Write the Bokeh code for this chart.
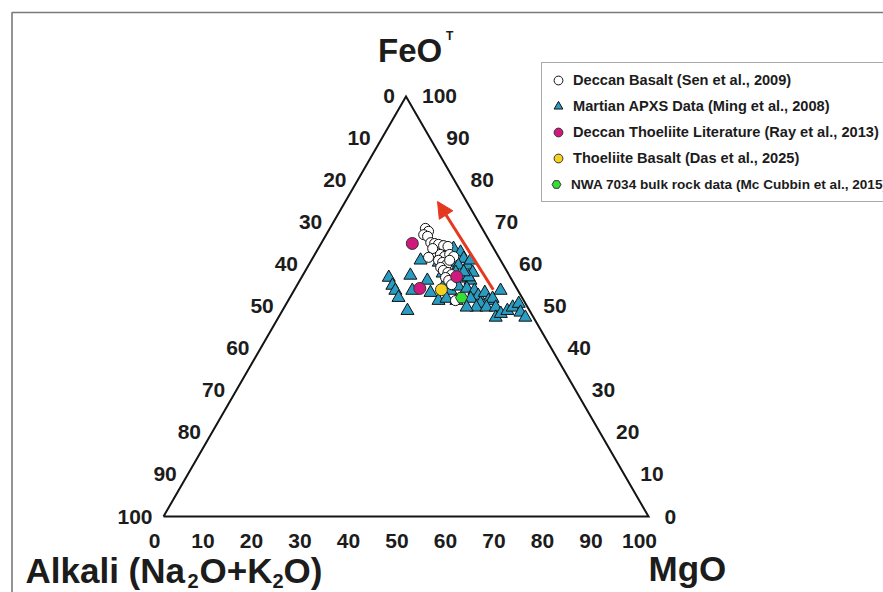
import math
from bokeh.plotting import figure
from bokeh.models import Range1d, Legend, LegendItem, Arrow, NormalHead
from bokeh.core.properties import value
from bokeh.embed import file_html
from bokeh.resources import INLINE

# ---- data: oxide proportions (Alkali, FeOT, MgO), normalised to 100 ----
deccan_alk = [11.7, 11.4, 12.8, 12.2, 12.3, 11.6, 10.9, 10.0, 9.2, 12.4, 11.7, 11.1, 9.8, 9.2,
              12.8, 12.2, 11.6, 10.5, 13.2, 13.0, 12.3, 11.8, 13.4, 13.1, 13.0, 14.1, 12.6, 14.5]
deccan_feo = [68.6, 67.9, 67.1, 66.7, 65.2, 65.0, 64.8, 64.5, 64.3, 62.9, 62.4, 61.9, 62.4, 61.9,
              61.0, 60.5, 60.0, 61.0, 59.3, 58.6, 58.1, 57.6, 56.9, 56.2, 55.2, 51.4, 63.8, 61.7]
deccan_mgo = [19.7, 20.7, 20.1, 21.1, 22.5, 23.4, 24.3, 25.5, 26.5, 24.7, 25.9, 27.0, 27.8, 28.9,
              26.2, 27.3, 28.4, 28.5, 27.5, 28.4, 29.6, 30.6, 29.7, 30.7, 31.8, 34.5, 23.6, 23.8]

apxs_alk = [25.1, 25.3, 25.3, 25.5, 20.4, 16.5, 21.8, 25.2, 17.5, 18.3, 17.6, 13.9, 12.3, 15.7,
            12.0, 10.5, 9.8, 8.3, 7.3, 7.4, 10.6, 13.0, 9.3, 7.4, 13.5, 10.7, 10.0, 8.6,
            14.5, 11.8, 10.3, 9.0, 8.8, 7.1, 10.7, 7.3, 9.3, 6.2, 10.6, 8.5, 6.6, 12.6,
            13.9, 3.6, 7.8, 6.3, 4.6, 3.1, 1.4, 2.1, 1.7, 12.7, 6.2, 7.2, 12.4, 8.6, 9.0]
apxs_feo = [56.9, 55.0, 53.8, 52.1, 57.4, 61.0, 53.8, 49.0, 56.2, 53.3, 51.4, 53.8, 55.7, 51.9,
            63.8, 64.0, 62.9, 63.8, 62.9, 61.4, 60.5, 60.5, 59.8, 59.8, 57.9, 58.1, 56.7, 56.2,
            55.2, 54.8, 54.3, 53.8, 52.6, 53.3, 51.9, 51.4, 50.7, 51.9, 49.8, 49.8, 49.8, 49.8,
            51.4, 53.8, 47.4, 48.3, 49.0, 49.8, 50.7, 48.6, 47.4, 63.3, 61.0, 58.1, 56.7, 57.0, 58.2]
apxs_mgo = [18.0, 19.7, 20.9, 22.4, 22.2, 22.5, 24.4, 25.8, 26.3, 28.4, 31.0, 32.3, 32.0, 32.4,
            24.2, 25.5, 27.3, 27.9, 29.8, 31.2, 28.9, 26.5, 30.9, 32.8, 28.6, 31.2, 33.3, 35.2,
            30.3, 33.4, 35.4, 37.2, 38.6, 39.6, 37.4, 41.3, 40.0, 41.9, 39.6, 41.7, 43.6, 37.6,
            34.7, 42.6, 44.8, 45.4, 46.4, 47.1, 47.9, 49.3, 50.9, 24.0, 32.8, 34.7, 30.9, 34.4, 32.8]

ray_alk = [16.2, 11.0, 20.0]
ray_feo = [65.0, 57.1, 54.3]
ray_mgo = [18.8, 31.9, 25.7]

das_alk = [15.7]
das_feo = [54.0]
das_mgo = [30.3]

nwa_alk = [12.5]
nwa_feo = [52.1]
nwa_mgo = [35.4]

# trend arrow (tail -> head)
arrow_alk = [5.0, 6.0]
arrow_feo = [54.0, 75.0]
arrow_mgo = [41.0, 19.0]

tick_values = [0, 10, 20, 30, 40, 50, 60, 70, 80, 90, 100]

H = math.sqrt(3) / 2


def tern(alk, feo, mgo):
    xs, ys = [], []
    for a, f, m in zip(alk, feo, mgo):
        s = a + f + m
        fn, mn = 100.0 * f / s, 100.0 * m / s
        xs.append(mn + fn / 2.0)
        ys.append(fn * H)
    return xs, ys


# ---- figure: 4.85 px per ternary unit, Alkali corner at (163, 516) px ----
W, HT = 883, 592
SCALE = 4.85
OX, OY = 163, 516
p = figure(width=W, height=HT, output_backend="svg", toolbar_location=None,
           x_range=Range1d(-OX / SCALE, (W - OX) / SCALE),
           y_range=Range1d(-(HT - OY) / SCALE, OY / SCALE),
           x_axis_location=None, y_axis_location=None, min_border=0)
p.grid.visible = False
p.outline_line_color = None
p.background_fill_color = "white"
p.border_fill_color = "white"

# page frame (left and top edges)
fx = (11.5 - OX) / SCALE
fy = (OY - 12) / SCALE
p.line([fx, fx, (W - OX) / SCALE + 2], [-(HT - OY) / SCALE - 2, fy, fy],
       line_color="#7a7a7a", line_width=1.6)

# triangle outline
cx, cy = tern([100, 0, 0, 100], [0, 100, 0, 0], [0, 0, 100, 0])
p.line(cx, cy, line_color="#141414", line_width=2, line_join="miter")

FONT = value("Liberation Sans")
TXT = "#1c1c1c"

# tick labels along the three edges
labels = [str(v) for v in tick_values]
bx, by = tern([100 - v for v in tick_values], [0] * 11, tick_values)
p.text(bx, by, text=labels, x_offset=-9, y_offset=24, text_align="center",
       text_baseline="middle", text_font=FONT, text_font_style="bold",
       text_font_size="21px", text_color=TXT)
lx, ly = tern(tick_values, [100 - v for v in tick_values], [0] * 11)
p.text(lx, ly, text=labels, x_offset=-11, y_offset=0, text_align="right",
       text_baseline="middle", text_font=FONT, text_font_style="bold",
       text_font_size="21px", text_color=TXT)
rx, ry = tern([0] * 11, tick_values, [100 - v for v in tick_values])
p.text(rx, ry, text=labels, x_offset=16, y_offset=0, text_align="left",
       text_baseline="middle", text_font=FONT, text_font_style="bold",
       text_font_size="21px", text_color=TXT)


def title_piece(corner, txt, dx, dy, size):
    x, y = tern(*[[c] for c in corner])
    p.text(x, y, text=[txt], x_offset=dx, y_offset=dy, text_align="left",
           text_baseline="alphabetic", text_font=FONT, text_font_style="bold",
           text_font_size=size, text_color=TXT)


# corner titles
title_piece((0, 100, 0), "FeO", -28, -46, "33px")
title_piece((0, 100, 0), "T", 40, -60, "12px")
title_piece((100, 0, 0), "Alkali (Na", -138, 54, "35px")
title_piece((100, 0, 0), "2", 24, 64, "20px")
title_piece((100, 0, 0), "O+K", 36, 54, "35px")
title_piece((100, 0, 0), "2", 109, 64, "20px")
title_piece((100, 0, 0), "O)", 120, 54, "35px")
title_piece((0, 0, 100), "MgO", 0, 52, "35px")

# trend arrow
ax, ay = tern(arrow_alk, arrow_feo, arrow_mgo)
p.add_layout(Arrow(x_start=ax[0], y_start=ay[0], x_end=ax[1], y_end=ay[1],
                   line_color="#e4391f", line_width=3,
                   end=NormalHead(size=16, fill_color="#e4391f", line_color="#e4391f")))

# data series
x, y = tern(apxs_alk, apxs_feo, apxs_mgo)
r_apxs = p.scatter(x, y, marker="triangle", size=13, fill_color="#2a9cc2",
                   line_color="#111111", line_width=1)
x, y = tern(deccan_alk, deccan_feo, deccan_mgo)
r_deccan = p.scatter(x, y, marker="circle", size=10, fill_color="white",
                     line_color="#111111", line_width=1)
x, y = tern(ray_alk, ray_feo, ray_mgo)
r_ray = p.scatter(x, y, marker="circle", size=12, fill_color="#d0197d",
                  line_color="#333333", line_width=1)
x, y = tern(das_alk, das_feo, das_mgo)
r_das = p.scatter(x, y, marker="circle", size=12, fill_color="#f4d21e",
                  line_color="#333333", line_width=1)
x, y = tern(nwa_alk, nwa_feo, nwa_mgo)
r_nwa = p.scatter(x, y, marker="hex", size=12, fill_color="#35e035",
                  line_color="#333333", line_width=1)
# invisible placeholder keeping the fifth legend row open
r_slot = p.scatter([float("nan")], [float("nan")], marker="circle", size=1, alpha=0)


def style_legend(lg, size):
    lg.padding = 5
    lg.spacing = 2
    lg.margin = 0
    lg.glyph_width = 22
    lg.glyph_height = 24
    lg.label_height = 24
    lg.label_standoff = 4
    lg.label_text_font = "Liberation Sans"
    lg.label_text_font_style = "bold"
    lg.label_text_font_size = size
    lg.label_text_color = TXT


legend = Legend(items=[
    LegendItem(label="Deccan Basalt (Sen et al., 2009)", renderers=[r_deccan]),
    LegendItem(label="Martian APXS Data (Ming et al., 2008)", renderers=[r_apxs]),
    LegendItem(label="Deccan Thoeliite Literature (Ray et al., 2013)", renderers=[r_ray]),
    LegendItem(label="Thoeliite Basalt (Das et al., 2025)", renderers=[r_das]),
    LegendItem(label=" ", renderers=[r_slot]),
], location=(541, 390))
style_legend(legend, "14.6px")
legend.label_width = 340
legend.border_line_color = "#555555"
legend.border_line_width = 1.5
legend.background_fill_color = "white"
legend.background_fill_alpha = 1.0
p.add_layout(legend)

legend_nwa = Legend(items=[
    LegendItem(label="NWA 7034 bulk rock data (Mc Cubbin et al., 2015)", renderers=[r_nwa]),
], location=(545, 396))
style_legend(legend_nwa, "13.6px")
legend_nwa.border_line_color = None
legend_nwa.background_fill_alpha = 0
p.add_layout(legend_nwa)

open("out.html", "w").write(file_html(p, INLINE))
